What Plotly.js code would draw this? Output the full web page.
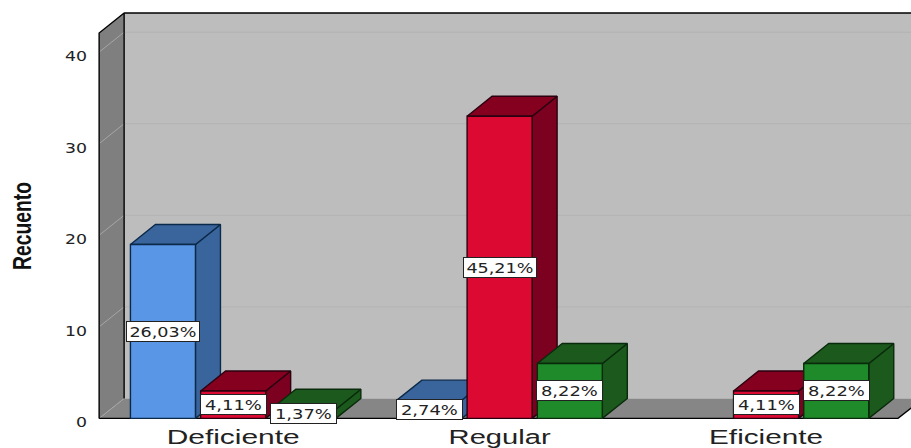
<!DOCTYPE html>
<html>
<head>
<meta charset="utf-8">
<script src="https://cdn.plot.ly/plotly-3.0.1.min.js"></script>
<style>html,body{margin:0;padding:0;background:#fff}#chart{width:911px;height:448px}</style>
</head>
<body>
<div id="chart"></div>
<script>
// Counts per category and series
const categories = ["Deficiente", "Regular", "Eficiente"];
const seriesA = [19, 2, 0];
const seriesB = [3, 33, 3];
const seriesC = [1, 6, 6];
const pctA = ["26,03%", "2,74%", ""];
const pctB = ["4,11%", "45,21%", "4,11%"];
const pctC = ["1,37%", "8,22%", "8,22%"];
const yTicks = [0, 10, 20, 30, 40];
const categoryLabelLengths = [133, 102, 114];

// Colours per series: front, top, side
const palette = [
  {front: "#5a96e6", top: "#3a659c", side: "#3a659c", edge: "#0b2a4a"},
  {front: "#dc0a32", top: "#85001f", side: "#7c0020", edge: "#2a0010"},
  {front: "#1f8a2a", top: "#1b5a1c", side: "#1b5a1c", edge: "#0a2a0c"}
];
const values = [seriesA, seriesB, seriesC];
const labels = [pctA, pctB, pctC];

// Box geometry in axis units: one category per unit on x, counts on y
const barW = 0.244, pitch = 0.2635, depthX = 0.0938, depthY = 2.18;
const xLeftWall = -0.503, yTop = 44.27;
const xFar = 2.589;

const traces = [];
function poly(xs, ys, fill, line, width) {
  traces.push({
    type: "scatter", mode: "lines", x: xs.concat(xs[0]), y: ys.concat(ys[0]),
    fill: "toself", fillcolor: fill,
    line: line ? {color: line, width: width === undefined ? 1.4 : width} : {width: 0},
    hoverinfo: "skip", showlegend: false
  });
}
function seg(xs, ys, color, width) {
  traces.push({
    type: "scatter", mode: "lines", x: xs, y: ys,
    line: {color: color, width: width || 1},
    hoverinfo: "skip", showlegend: false
  });
}

// Walls and floor
const bx = xLeftWall + depthX;
poly([bx, xFar, xFar, bx], [depthY, depthY, yTop, yTop], "#bdbdbd");
poly([xLeftWall, bx, bx, xLeftWall], [0, depthY, yTop, yTop - depthY], "#7f7f7f");
poly([xLeftWall, xFar - depthX, xFar, bx], [0, 0, depthY, depthY], "#868686");
yTicks.forEach(v => {
  seg([xLeftWall, bx], [v, v + depthY], "#a6a6a6", 1);
  if (v > 0) seg([bx, xFar], [v + depthY, v + depthY], "#b2b2b2", 1);
});
// Frame edges of the box
seg([bx, xFar], [yTop, yTop], "#000", 1.4);
seg([xLeftWall, xLeftWall, bx, bx], [0, yTop - depthY, yTop, depthY], "#000", 1.4);
seg([xLeftWall, xFar - depthX, xFar], [0, 0, depthY], "#000", 1.4);

// Bars, painted left to right so nearer faces overlap correctly
const annotations = [];
categories.forEach((cat, g) => {
  values.forEach((vals, s) => {
    const v = vals[g];
    if (!v) return;
    const c = palette[s];
    const x0 = g + (s - 1) * pitch - barW / 2, x1 = x0 + barW;
    poly([x1, x1 + depthX, x1 + depthX, x1], [0, depthY, v + depthY, v], c.side, c.edge);
    poly([x0, x1, x1 + depthX, x0 + depthX], [v, v, v + depthY, v + depthY], c.top, c.edge);
    poly([x0, x1, x1, x0], [0, 0, v, v], c.front, c.edge);
  });
});
categories.forEach((cat, g) => {
  values.forEach((vals, s) => {
    const v = vals[g];
    if (!v) return;
    const wide = labels[s][g].length > 5;
    annotations.push({
      x: g + (s - 1) * pitch, y: v / 2, xref: "x", yref: "y",
      text: labels[s][g], showarrow: false,
      font: {family: "DejaVu Sans", size: 13.5, color: "#222"},
      bgcolor: "#fff", bordercolor: "#222", borderwidth: 1,
      width: wide ? 72 : 65, height: 19, borderpad: 0
    });
  });
});

const layout = {
  width: 911, height: 448, showlegend: false,
  paper_bgcolor: "#fff", plot_bgcolor: "#fff",
  margin: {l: 97, r: 0, t: 10, b: 24.6},
  xaxis: {
    range: [-0.511, 2.544], tickmode: "array", tickvals: [0, 1, 2], ticktext: categories,
    showgrid: false, zeroline: false, showline: false, ticks: "",
    tickfont: {family: "Liberation Sans", size: 19.5, color: "#222"}, ticklabelstandoff: 0
  },
  yaxis: {
    range: [-0.5, 44.6], tickmode: "array", tickvals: yTicks, ticktext: yTicks.map(String),
    showgrid: false, zeroline: false, showline: false, ticks: "",
    tickfont: {family: "DejaVu Sans", size: 14, color: "#222"}, ticklabelstandoff: 9, ticklabelshift: 4,
    title: {text: "Recuento", font: {family: "Liberation Sans", size: 26, weight: 700, color: "#111"}}
  },
  annotations: annotations
};

Plotly.newPlot("chart", traces, layout, {displayModeBar: false, staticPlot: true}).then(() => {
  // The typeface is set wide on the axes and labels, narrow on the axis title
  const stretch = (t, w) => { t.setAttribute("textLength", w); t.setAttribute("lengthAdjust", "spacingAndGlyphs"); };
  document.querySelectorAll(".annotation-text").forEach(t => stretch(t, t.textContent.length > 5 ? 67 : 57));
  document.querySelectorAll(".xtick text").forEach(t => stretch(t, categoryLabelLengths[categories.indexOf(t.textContent)]));
  document.querySelectorAll(".ytick text").forEach(t => stretch(t, t.textContent.length * 11));
  const title = document.querySelector(".ytitle");
  stretch(title, 88);
  // Seat the axis title beside the tick labels, centred on the count scale
  const box = title.getBoundingClientRect();
  const shift = "translate(" + (22 - (box.left + box.right) / 2) + "," + (226 - (box.top + box.bottom) / 2) + ") ";
  title.setAttribute("transform", shift + (title.getAttribute("transform") || ""));
});
</script>
</body>
</html>
